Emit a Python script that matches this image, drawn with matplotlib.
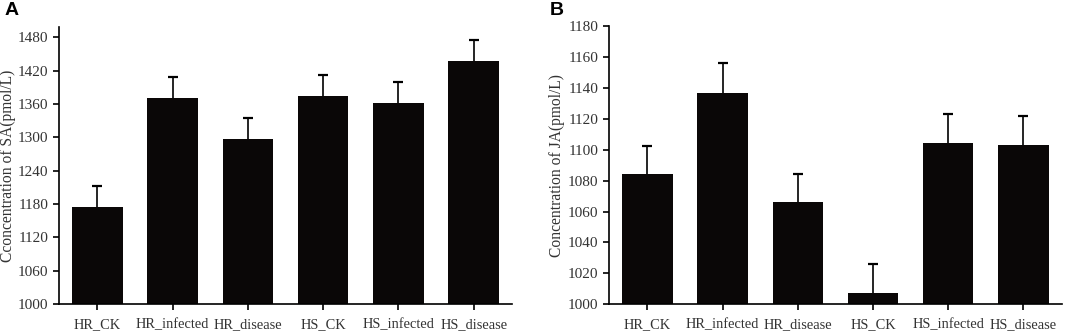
import numpy as np
import matplotlib.pyplot as plt

# groupes et valeurs
groups = ["HR_CK", "HR_infected", "HR_disease", "HS_CK", "HS_infected", "HS_disease"]

sa_mean = [1174, 1371, 1296, 1375, 1362, 1437]
sa_err = [39, 37, 38, 37, 38, 38]

ja_mean = [1084.5, 1137, 1066, 1007, 1104.5, 1103]
ja_err = [18, 19, 18.5, 19, 18.5, 19]

plt.rcParams["font.family"] = ["Liberation Serif", "DejaVu Serif"]
text_col = "#333333"
bar_col = "#0a0707"

fig = plt.figure(figsize=(10.65, 3.31), dpi=100)
axA = fig.add_axes([0.0554, 0.0816, 0.4254, 0.8364])
axB = fig.add_axes([0.5718, 0.0808, 0.4252, 0.8402])

x = np.arange(len(groups))


def draw(ax, mean, err, ylim, yticks, ylabel, label_x):
    mean = np.array(mean)
    top = mean + np.array(err)
    ax.bar(x, mean, width=0.67, color=bar_col, zorder=2)
    # barres d'erreur vers le haut seulement
    ax.vlines(x, mean, top, color="black", lw=1.2, zorder=1)
    ax.plot(x, top, ls="none", marker="_", ms=7, mew=1.6, color="black", zorder=1)
    ax.set_xlim(-0.51, 5.51)
    ax.set_ylim(*ylim)
    ax.set_yticks(yticks)
    ax.set_xticks(x)
    ax.set_xticklabels(groups)
    ax.spines["top"].set_visible(False)
    ax.spines["right"].set_visible(False)
    ax.spines["left"].set_linewidth(1.2)
    ax.spines["bottom"].set_linewidth(1.2)
    ax.tick_params(axis="both", direction="out", length=4, width=1.2,
                   labelcolor=text_col)
    ax.tick_params(axis="y", labelsize=11)
    ax.tick_params(axis="x", labelsize=10.4, pad=6)
    ax.set_ylabel(ylabel, fontsize=11.2, color=text_col)
    ax.yaxis.set_label_coords(label_x, 0.5)


draw(axA, sa_mean, sa_err, (1000, 1498), np.arange(1000, 1481, 60),
     "Cconcentration of SA(pmol/L)", -0.094)
draw(axB, ja_mean, ja_err, (1000, 1180), np.arange(1000, 1181, 20),
     "Concentration of JA(pmol/L)", -0.097)

fig.text(0.004, 0.995, "A", fontsize=14, fontweight="bold", va="top",
         family="Liberation Sans")
fig.text(0.516, 0.995, "B", fontsize=14, fontweight="bold", va="top",
         family="Liberation Sans")

plt.savefig("out.png", dpi=100)
